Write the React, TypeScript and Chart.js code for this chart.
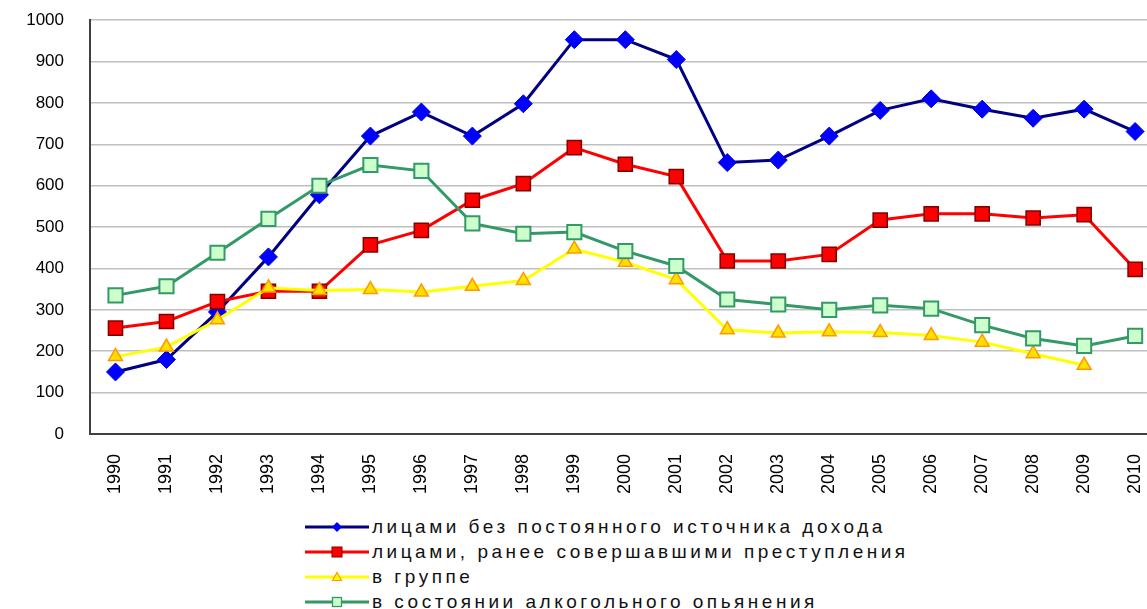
import React, { useEffect, useRef } from "react";
import { Chart, registerables } from "chart.js";

Chart.register(...registerables);

const years = ["1990","1991","1992","1993","1994","1995","1996","1997","1998","1999","2000","2001","2002","2003","2004","2005","2006","2007","2008","2009","2010"];

const noIncome = [150, 180, 295, 428, 578, 720, 778, 720, 798, 953, 953, 905, 656, 662, 720, 782, 810, 785, 763, 785, 731];
const repeatOffenders = [256, 272, 320, 345, 345, 457, 492, 565, 605, 692, 652, 622, 418, 418, 434, 517, 532, 532, 522, 530, 398];
const inGroup: (number | null)[] = [187, 210, 276, 353, 347, 349, 343, 357, 371, 447, 415, 373, 252, 244, 247, 245, 238, 222, 194, 166, null];
const drunk = [335, 357, 438, 520, 600, 650, 636, 509, 484, 488, 442, 406, 325, 313, 300, 311, 303, 263, 231, 213, 237];

const yTicks = [0, 100, 200, 300, 400, 500, 600, 700, 800, 900, 1000];

const seriesNames = [
  "лицами без постоянного источника дохода",
  "лицами, ранее совершавшими преступления",
  "в группе",
  "в состоянии алкогольного опьянения",
];

const FONT = "'Liberation Sans', Arial, sans-serif";

function LegendSymbol({ kind }: { kind: number }) {
  const line = ["#000080", "#FF0000", "#FFFF00", "#339966"][kind];
  let marker: React.ReactNode = null;
  if (kind === 0) marker = <polygon points="32,5 37,10 32,15 27,10" fill="#0000FF" />;
  if (kind === 1) marker = <rect x={27} y={5} width={10} height={10} fill="#FF0000" stroke="#800000" strokeWidth={1} />;
  if (kind === 2) marker = <polygon points="32,5.5 36.5,13.5 27.5,13.5" fill="#FFFF00" stroke="#FF9900" strokeWidth={1.2} />;
  if (kind === 3) marker = <rect x={27.5} y={5.5} width={9} height={9} fill="#CCFFCC" stroke="#339966" strokeWidth={1.3} />;
  return (
    <svg width={64} height={20} style={{ display: "block" }}>
      <line x1={0} y1={10} x2={64} y2={10} stroke={line} strokeWidth={3} />
      {marker}
    </svg>
  );
}

export default function App() {
  const ref = useRef<HTMLCanvasElement | null>(null);

  useEffect(() => {
    if (!ref.current) return;
    const chart = new Chart(ref.current, {
      type: "line",
      data: {
        labels: years,
        datasets: [
          {
            label: seriesNames[0],
            data: noIncome,
            borderColor: "#000080",
            borderWidth: 3,
            pointStyle: "rectRot",
            pointRadius: 9,
            pointBackgroundColor: "#0000FF",
            pointBorderColor: "#0000DD",
            pointBorderWidth: 1,
            order: 3,
          },
          {
            label: seriesNames[1],
            data: repeatOffenders,
            borderColor: "#FF0000",
            borderWidth: 3,
            pointStyle: "rect",
            pointRadius: 10,
            pointBackgroundColor: "#FF0000",
            pointBorderColor: "#800000",
            pointBorderWidth: 1.5,
            order: 2,
          },
          {
            label: seriesNames[2],
            data: inGroup,
            borderColor: "#FFFF00",
            borderWidth: 3,
            pointStyle: "triangle",
            pointRadius: 8,
            pointBackgroundColor: "#FFE000",
            pointBorderColor: "#FF9900",
            pointBorderWidth: 1.5,
            order: 1,
          },
          {
            label: seriesNames[3],
            data: drunk,
            borderColor: "#339966",
            borderWidth: 3,
            pointStyle: "rect",
            pointRadius: 10,
            pointBackgroundColor: "#CCFFCC",
            pointBorderColor: "#339966",
            pointBorderWidth: 2,
            order: 0,
          },
        ],
      },
      options: {
        animation: false,
        responsive: true,
        maintainAspectRatio: false,
        layout: { padding: { top: 3, right: 6, left: 0, bottom: 0 } },
        plugins: {
          legend: { display: false },
          tooltip: { enabled: false },
        },
        elements: { line: { tension: 0 } },
        scales: {
          x: {
            type: "category",
            offset: true,
            grid: { display: false, drawTicks: false },
            border: { display: true, color: "#404040", width: 2 },
            ticks: {
              minRotation: 90,
              maxRotation: 90,
              padding: 20,
              color: "#000",
              font: { family: FONT, size: 18 },
              autoSkip: false,
            },
            afterFit: (scale: any) => {
              scale.height = 71;
            },
          },
          y: {
            min: 0,
            max: 1000,
            afterBuildTicks: (scale: any) => {
              scale.ticks = yTicks.map((v) => ({ value: v }));
            },
            grid: { color: "#C0C0C0", lineWidth: 1.5, drawTicks: false },
            border: { display: true, color: "#404040", width: 2 },
            ticks: {
              padding: 26,
              color: "#000",
              font: { family: FONT, size: 17 },
              callback: (v: any) => String(v),
            },
            afterFit: (scale: any) => {
              scale.width = 90;
            },
          },
        },
      },
    });
    return () => chart.destroy();
  }, []);

  return (
    <div style={{ position: "fixed", left: 0, top: 0, width: 1147, height: 609, overflow: "hidden", background: "#fff" }}>
      <div style={{ position: "absolute", left: 0, top: -16, width: 1177, height: 521 }}>
        <canvas ref={ref} />
      </div>
      <div style={{ position: "absolute", left: 305, top: 514, fontFamily: FONT, fontSize: 19, color: "#111" }}>
        {seriesNames.map((name, i) => (
          <div key={i} style={{ display: "flex", alignItems: "center", height: 25 }}>
            <LegendSymbol kind={i} />
            <span style={{ marginLeft: 3, letterSpacing: 3.5, whiteSpace: "nowrap" }}>{name}</span>
          </div>
        ))}
      </div>
    </div>
  );
}
